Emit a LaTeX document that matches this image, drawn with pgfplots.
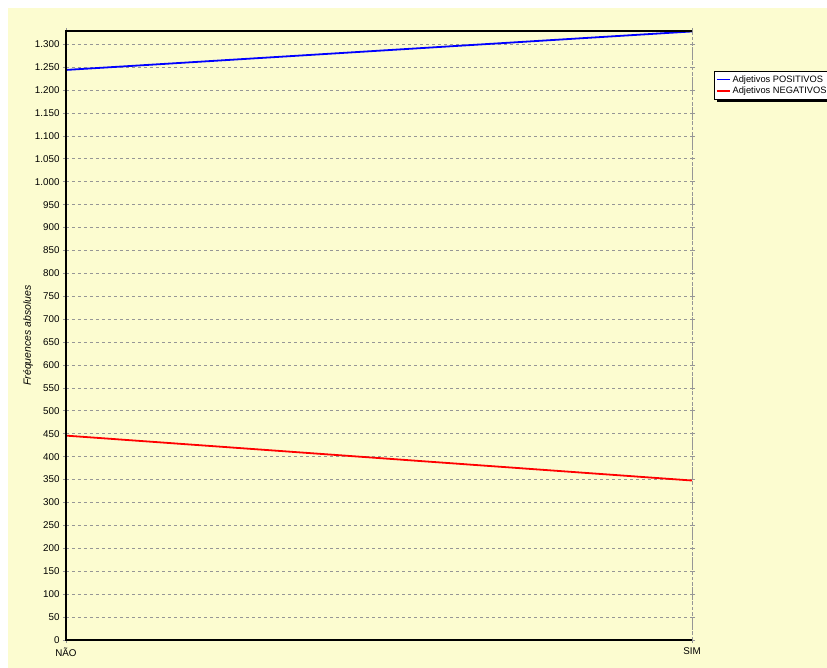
\documentclass[border=0pt]{standalone}
\usepackage{pgfplots}
\pgfplotsset{compat=1.18}
\usepackage{fontspec}
\setmainfont{Liberation Sans}
\usetikzlibrary{backgrounds}
\definecolor{bgyellow}{RGB}{252,252,208}
\definecolor{gridgray}{RGB}{150,150,150}
\begin{document}
\begin{tikzpicture}
\useasboundingbox (-66pt,-28pt) rectangle (761pt,640pt);
\begin{axis}[
  at={(0pt,0pt)}, anchor=south west,
  scale only axis, width=626pt, height=609pt,
  xmin=0, xmax=1, ymin=0, ymax=1329,
  xtick={0,1}, xticklabels={NÃO,SIM},
  ytick={0,50,...,1300},
  scaled y ticks=false,
  /pgf/number format/.cd, 1000 sep={.}, assume math mode=true,
  /pgfplots/.cd,
  tick label style={font=\fontsize{9.8}{11}\selectfont},
  xticklabel style={yshift=-1pt},
  tick align=outside, major tick length=3pt,
  tick style={gridgray, line width=0.8pt},
  ymajorgrids, xmajorgrids,
  grid style={gridgray, dashed, line width=0.8pt, dash pattern=on 3pt off 3pt},
  axis line style={draw=none},
  ylabel={\itshape Fréquences absolues},
  ylabel style={font=\fontsize{10.5}{12}\selectfont, at={(rel axis cs:-0.0607,0.5)}, anchor=center},
  legend style={at={(1.035,0.934)}, anchor=north west, fill=white,
    font=\fontsize{9.3}{10.5}\selectfont, inner sep=2pt, row sep=-0.5pt},
  legend cell align=left,
  legend image code/.code={\draw[#1] (2pt,0pt) -- (15pt,0pt); \draw[#1] (2pt,0pt) -- (15pt,0pt);},
  clip=false,
]
\addplot[blue, line width=1.8pt, forget plot] coordinates {(0,1244) (1,1328)};
\addplot[red, line width=1.8pt, forget plot] coordinates {(0,446) (1,348)};
\addlegendimage{blue, line width=1.5pt}
\addlegendentry{Adjetivos POSITIVOS}
\addlegendimage{red, line width=1.5pt}
\addlegendentry{Adjetivos NEGATIVOS}
\draw[black, line width=1.2pt] (rel axis cs:1,1) -- (rel axis cs:0,1) -- (rel axis cs:0,0) -- (rel axis cs:1,0);
\draw[gridgray, line width=1pt, dash pattern=on 3pt off 2pt] (rel axis cs:1,0) -- (rel axis cs:1,1);
\end{axis}
\begin{scope}[on background layer]
\fill[white] (-66pt,-28pt) rectangle (761pt,640pt);
\fill[bgyellow] (-58pt,-28pt) rectangle (761pt,632pt);
\fill[black] (651pt,538pt) rectangle (770pt,566pt);
\end{scope}
\end{tikzpicture}
\end{document}
